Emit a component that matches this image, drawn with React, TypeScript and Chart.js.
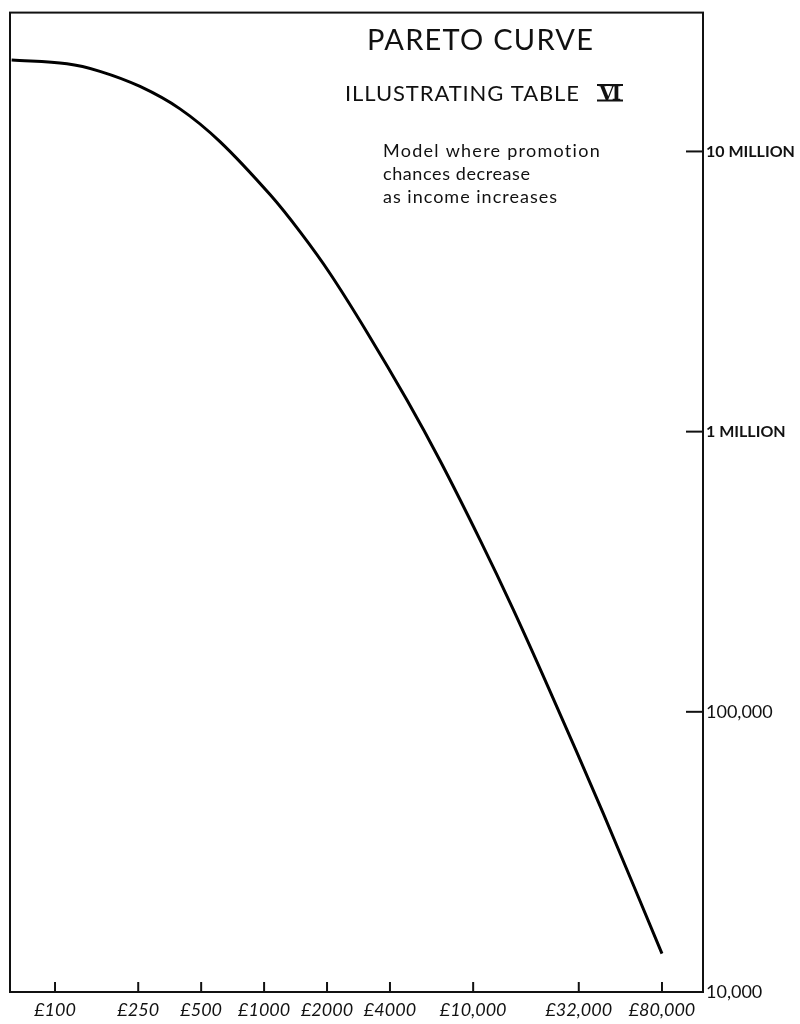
import React, { useEffect, useRef } from "react";
import { Chart, registerables } from "chart.js";

Chart.register(...registerables);

// ---- data (log-log Pareto curve) ----
const incomeGBP = [62, 114, 164, 255, 396, 615, 1070, 1490, 2070, 3110, 4830, 6950, 10800, 15500, 22900, 41900, 80000];
const persons = [21200000, 20560000, 19320000, 17060000, 14190000, 10840000, 7000000, 5150000, 3660000, 2260000, 1294000, 787000, 410000, 233000, 122000, 43400, 13700];

const xTickValues = [100, 250, 500, 1000, 2000, 4000, 10000, 32000, 80000];
const xTickLabels = ["£100", "£250", "£500", "£1000", "£2000", "£4000", "£10,000", "£32,000", "£80,000"];
const yTickValues = [10000, 100000, 1000000, 10000000];
const yTickLabels = ["10,000", "100,000", "1 MILLION", "10 MILLION"];

const titleText = "PARETO CURVE";
const subtitleText = "ILLUSTRATING TABLE";
const subtitleNumeral = "VI";
const noteLines = ["Model where promotion", "chances decrease", "as income increases"];

const FONT = "Lato, 'Open Sans', 'DejaVu Sans', sans-serif";

function drawSpaced(ctx: CanvasRenderingContext2D, text: string, x: number, y: number, width: number) {
  (ctx as any).letterSpacing = "0px";
  const w = ctx.measureText(text).width;
  const ls = text.length > 1 ? (width - w) / (text.length - 1) : 0;
  (ctx as any).letterSpacing = `${ls}px`;
  ctx.textAlign = "left";
  ctx.fillText(text, x, y);
  (ctx as any).letterSpacing = "0px";
}

const framePlugin = {
  id: "paretoFrame",
  afterDraw(chart: any) {
    const { ctx, chartArea, scales } = chart;
    const { left, right, top, bottom } = chartArea;
    ctx.save();
    ctx.strokeStyle = "#111";
    ctx.lineWidth = 2;
    ctx.lineCap = "butt";
    ctx.strokeRect(left, top, right - left, bottom - top);
    for (const v of xTickValues) {
      const px = scales.x.getPixelForValue(v);
      ctx.beginPath();
      ctx.moveTo(px, bottom);
      ctx.lineTo(px, bottom - 10);
      ctx.stroke();
    }
    for (const v of yTickValues) {
      const py = scales.y.getPixelForValue(v);
      ctx.beginPath();
      ctx.moveTo(right - 17, py);
      ctx.lineTo(right, py);
      ctx.stroke();
    }
    ctx.fillStyle = "#111";
    ctx.textBaseline = "alphabetic";
    ctx.font = `29px ${FONT}`;
    drawSpaced(ctx, titleText, 367, 50, 226);

    ctx.font = `22px ${FONT}`;
    drawSpaced(ctx, subtitleText, 345, 101, 234);
    ctx.font = `bold 20px 'DejaVu Serif', serif`;
    drawSpaced(ctx, subtitleNumeral, 599, 100, 22);
    ctx.lineWidth = 1.8;
    ctx.beginPath();
    ctx.moveTo(597, 85);
    ctx.lineTo(623, 85);
    ctx.moveTo(597, 100.5);
    ctx.lineTo(623, 100.5);
    ctx.stroke();

    ctx.font = `18px ${FONT}`;
    const noteWidths = [217, 147, 174];
    const noteBase = [157, 180, 203];
    noteLines.forEach((t, i) => drawSpaced(ctx, t, 383, noteBase[i], noteWidths[i]));
    ctx.restore();
  },
};

export default function App() {
  const ref = useRef<HTMLCanvasElement | null>(null);

  useEffect(() => {
    document.body.style.margin = "0";
    const canvas = ref.current;
    if (!canvas) return;
    const chart = new Chart(canvas, {
      type: "line",
      data: {
        datasets: [
          {
            data: incomeGBP.map((x, i) => ({ x, y: persons[i] })),
            borderColor: "#000",
            borderWidth: 3,
            pointRadius: 0,
            tension: 0.35,
            fill: false,
          },
        ],
      },
      options: {
        responsive: false,
        animation: false,
        layout: { padding: { left: 10, top: 11, right: 0, bottom: 0 } },
        plugins: { legend: { display: false }, tooltip: { enabled: false }, title: { display: false } },
        scales: {
          x: {
            type: "logarithmic",
            position: "bottom",
            min: 60.9,
            max: 125700,
            grid: { display: false, drawTicks: false },
            border: { display: false },
            afterBuildTicks: (scale: any) => {
              scale.ticks = xTickValues.map((value) => ({ value }));
            },
            afterFit: (scale: any) => {
              scale.height = 32;
            },
            ticks: {
              autoSkip: false,
              maxRotation: 0,
              minRotation: 0,
              padding: 7,
              color: "#111",
              font: { family: FONT, size: 18, style: "italic" },
              callback: (_v: any, i: number) => xTickLabels[i],
            },
          },
          y: {
            type: "logarithmic",
            position: "right",
            min: 10000,
            max: 31300000,
            grid: { display: false, drawTicks: false },
            border: { display: false },
            afterBuildTicks: (scale: any) => {
              scale.ticks = yTickValues.map((value) => ({ value }));
            },
            afterFit: (scale: any) => {
              scale.width = 97;
            },
            ticks: {
              autoSkip: false,
              padding: 3,
              color: "#111",
              font: (c: any) =>
                c.tick && c.tick.value >= 1000000
                  ? { family: FONT, size: 16, weight: "bold" }
                  : { family: FONT, size: 18, weight: "normal" },
              callback: (_v: any, i: number) => yTickLabels[i],
            },
          },
        },
      },
      plugins: [framePlugin],
    } as any);
    return () => chart.destroy();
  }, []);

  return (
    <div style={{ position: "fixed", left: 0, top: 0, width: 800, height: 1024, background: "#fff", overflow: "hidden" }}>
      <canvas ref={ref} width={800} height={1024} style={{ display: "block", width: 800, height: 1024 }} />
    </div>
  );
}
